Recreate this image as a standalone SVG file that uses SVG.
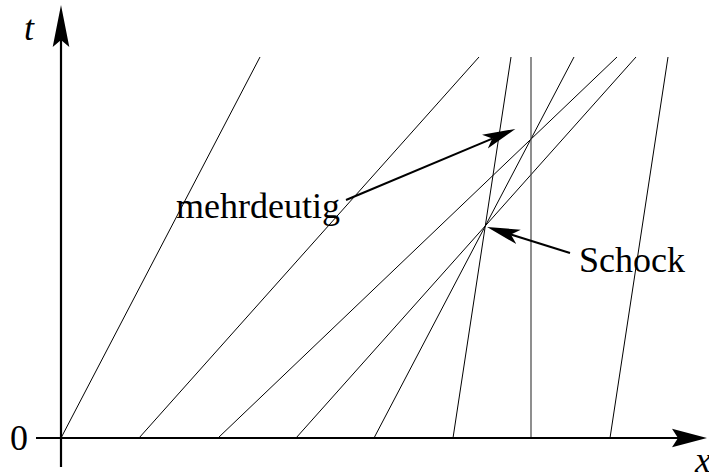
<svg xmlns="http://www.w3.org/2000/svg" width="709" height="476" viewBox="0 0 709 476">
<style>
.char{stroke:#000;stroke-width:1;fill:none}
.axis{stroke:#000;stroke-width:2.2;fill:none}
.ann{stroke:#000;stroke-width:2;fill:none}
.lbl{font-family:"Liberation Serif","Times New Roman",serif;font-size:36px;fill:#000}
.it{font-style:italic}
</style>
<defs>
<marker id="axheadV" markerUnits="userSpaceOnUse" markerWidth="46" markerHeight="20" viewBox="0 -10 46 20" refX="7" refY="0" orient="auto">
<path d="M42,0 L0,-8.3 L7,0 L0,8.3 Z" fill="#000"/>
</marker>
<marker id="axheadH" markerUnits="userSpaceOnUse" markerWidth="40" markerHeight="22" viewBox="0 -11 40 22" refX="6" refY="0" orient="auto">
<path d="M35,0 L0,-9.2 L6,0 L0,9.2 Z" fill="#000"/>
</marker>
<marker id="annhead" markerUnits="userSpaceOnUse" markerWidth="36" markerHeight="18" viewBox="0 -9 36 18" refX="8" refY="0" orient="auto">
<path d="M33,0 L0,-7.5 L8,0 L0,7.5 Z" fill="#000"/>
</marker>
</defs>
<g id="connectors">
<line class="char" x1="61" y1="438" x2="260" y2="57"/>
<line class="char" x1="139" y1="438" x2="479" y2="57"/>
<line class="char" x1="218" y1="438" x2="617" y2="57"/>
<line class="char" x1="296" y1="438" x2="636" y2="57"/>
<line class="char" x1="374" y1="438" x2="574" y2="57"/>
<line class="char" x1="453" y1="438" x2="511" y2="57"/>
<line class="char" x1="531" y1="438" x2="531" y2="57" style="stroke:#444;stroke-width:1.2"/>
<line class="char" x1="610" y1="438" x2="668" y2="57"/>
<line class="ann" x1="346" y1="200" x2="492.3" y2="138.6" marker-end="url(#annhead)"/>
<line class="ann" x1="570" y1="253" x2="510.9" y2="234.5" marker-end="url(#annhead)"/>
</g>
<g id="axes">
<line class="axis" x1="61" y1="467" x2="61" y2="40" marker-end="url(#axheadV)"/>
<line class="axis" x1="36" y1="438" x2="678" y2="438" marker-end="url(#axheadH)"/>
</g>
<g id="labels">
<text class="lbl it" x="24" y="40">t</text>
<text class="lbl" x="10" y="450">0</text>
<text class="lbl it" x="695" y="472">x</text>
<g id="node-mehrdeutig"><text class="lbl" x="176" y="218">mehrdeutig</text></g>
<g id="node-schock"><text class="lbl" x="579" y="272">Schock</text></g>
</g>
</svg>
